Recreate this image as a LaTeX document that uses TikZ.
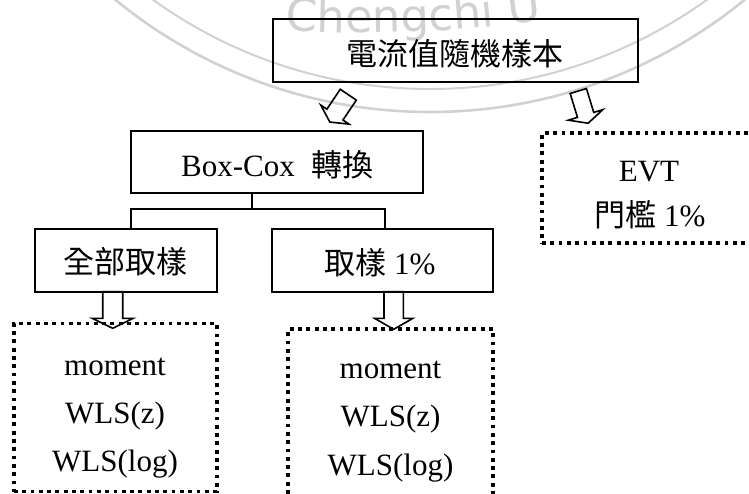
\documentclass[tikz,border=0pt]{standalone}
\usepackage{fontspec}
\setmainfont{Liberation Serif}
\newfontfamily\cjk{Noto Sans CJK TC}
\newfontfamily\wmfont{DejaVu Sans}
\usetikzlibrary{decorations.text}
\definecolor{wmline}{gray}{0.82}
\definecolor{wmtext}{gray}{0.82}
\begin{document}
\begin{tikzpicture}[x=1pt,y=-1pt,
  box/.style={draw, line width=1.8pt, inner sep=0pt},
  dotbox/.style={draw, line width=3.8pt, dash pattern=on 3.8pt off 4.5pt, inner sep=0pt},
  txt/.style={inner sep=0pt, anchor=base, font=\fontsize{31}{37}\selectfont},
  conn/.style={line width=1.8pt},
  arrline/.style={line width=1.6pt, line join=miter},
  wm/.style={draw=wmline, line width=2pt},
  pics/blockarr/.style n args={4}{code={\draw[arrline] (-#1,0) -- (#1,0) -- (#1,#2) -- (#3,#2) -- (0,#2+#4) -- (-#3,#2) -- (-#1,#2) -- cycle;}}
]
\useasboundingbox (0,0) rectangle (749,493);
\clip (0,0) rectangle (749,493);
% watermark
\draw[wm] (430,-385) circle[radius=474];
\draw[wm, line width=2.6pt] (430,-385) circle[radius=497];
\path[decorate, decoration={text along path, text={|\wmfont\fontsize{45}{45}\selectfont\color{wmtext}|Chengchi U}, text align=left}] (360,-1267) ++(93.3:1300) arc[start angle=93.3, end angle=78, radius=1300];
% boxes
\node[box, minimum width=365pt, minimum height=62.4pt] (top) at (455.5,50.5) {};
\node[box, minimum width=292pt, minimum height=62pt] (boxcox) at (277,162) {};
\node[box, minimum width=182pt, minimum height=62.4pt] (all) at (125.7,260.5) {};
\node[box, minimum width=221pt, minimum height=62.4pt] (pct) at (382.2,260.5) {};
\node[dotbox, minimum width=202.7pt, minimum height=168pt] (dL) at (115.3,407.5) {};
\node[dotbox, minimum width=205pt, minimum height=168pt] (dR) at (390.8,413.3) {};
\node[dotbox, minimum width=214pt, minimum height=110pt] (evt) at (649,188.3) {};
% texts
\node[txt] (t1) at (455,65) {\cjk 電流值隨機樣本};
\node[txt] (t2) at (277.5,176.7) {Box-Cox\hspace{17pt}{\cjk 轉換}};
\node[txt] (t3) at (125,273.5) {\cjk 全部取樣};
\node[txt] (t4) at (380,274) {{\cjk 取樣} 1\%};
\node[txt] (t5) at (649,181.7) {EVT};
\node[txt] (t6) at (650,226.7) {{\cjk 門檻} 1\%};
\node[txt] (l1) at (115,375) {moment};
\node[txt] (l2) at (115,423.3) {WLS(z)};
\node[txt] (l3) at (115,471.7) {WLS(log)};
\node[txt] (r1) at (390.5,378) {moment};
\node[txt] (r2) at (390.5,426.7) {WLS(z)};
\node[txt] (r3) at (390.5,475) {WLS(log)};
% connectors
\coordinate (jm) at (252.3,209.3);
\coordinate (jL) at (131,209.3);
\coordinate (jR) at (385,209.3);
\draw[conn] (boxcox.south -| jm) -- (jm);
\draw[conn] (all.north -| jL) -- (jL) -- (jR) -- (pct.north -| jR);
% block arrows
\pic[rotate=-34] at (348.3,94.7) {blockarr={9.7}{24}{17}{9}};
\pic[rotate=17] at (578.3,91) {blockarr={8.5}{25}{18}{8.7}};
\pic at (112.7,291.7) {blockarr={10}{26.6}{20.5}{10}};
\pic at (393.7,291.7) {blockarr={9.7}{26.6}{19.2}{11}};
\end{tikzpicture}
\end{document}
